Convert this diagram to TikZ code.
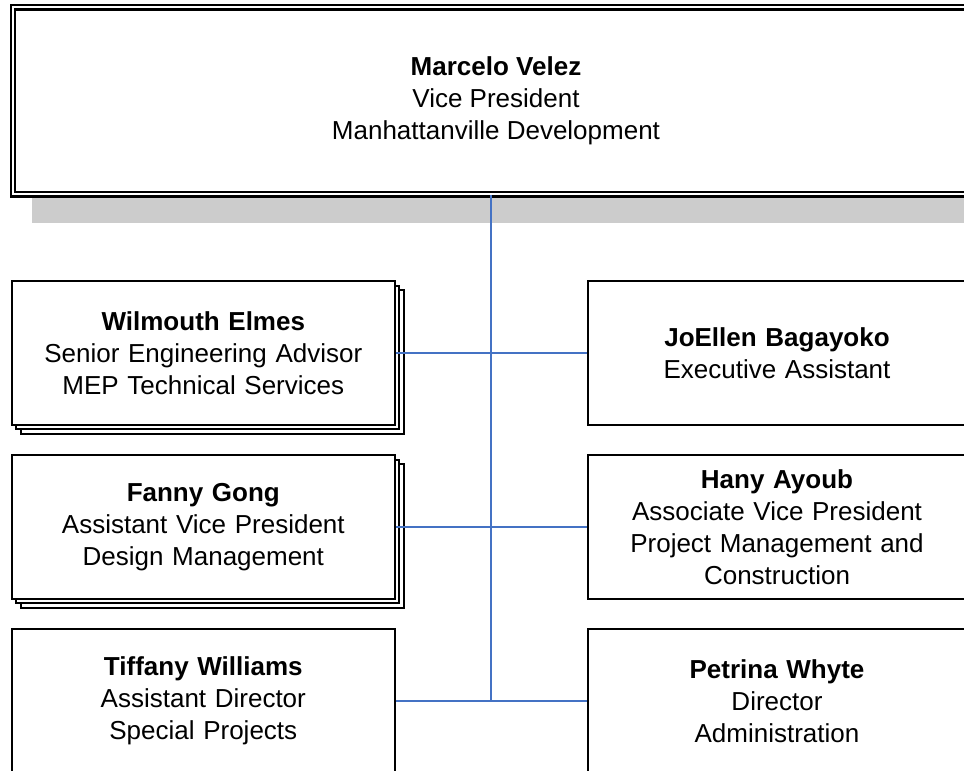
\documentclass[tikz,border=0pt]{standalone}
\usepackage{fontspec}
\setmainfont{Liberation Sans}
\usetikzlibrary{shadows}
\definecolor{linkblue}{HTML}{4472C4}
\definecolor{shadowgray}{HTML}{CCCCCC}

\begin{document}
\begin{tikzpicture}[x=1pt, y=-1pt,
  every node/.style={font=\fontsize{26}{32}\selectfont},
  person/.style={draw, fill=white, line width=1.8pt, align=center,
    inner sep=0pt, minimum height=143.5pt},
  leftbox/.style={person, minimum width=383pt, text width=370pt},
  rightbox/.style={person, minimum width=378pt, text width=360pt},
  stacked/.style={copy shadow={shadow xshift=9pt, shadow yshift=-9pt},
    copy shadow={shadow xshift=4.5pt, shadow yshift=-4.5pt}},
  link/.style={draw=linkblue, line width=2pt}]
  %----- page -----
  \useasboundingbox[fill=white] (0,0) rectangle (964,771);
  \clip (0,0) rectangle (964,771);

  %----- top box with its gray shadow -----
  \fill[shadowgray] (32,40) rectangle (990,222.5);
  \node[draw, double, double distance=2.6pt, line width=2.1pt, fill=white,
    minimum width=966pt, minimum height=187pt, inner sep=0pt, align=center]
    (vp) at (496,100.6)
    {\textbf{Marcelo Velez}\\Vice President\\Manhattanville Development};

  %----- left column -----
  \node[leftbox, stacked] (we) at (203.3,353)
    {\textbf{Wilmouth Elmes}\\Senior Engineering Advisor\\MEP Technical Services};
  \node[leftbox, stacked] (fg) at (203.3,527)
    {\textbf{Fanny Gong}\\Assistant Vice President\\Design Management};
  \node[leftbox] (tw) at (203.3,701)
    {\textbf{Tiffany Williams}\\Assistant Director\\Special Projects};

  %----- right column -----
  \node[rightbox] (jb) at (777,353)
    {\textbf{JoEllen Bagayoko}\\Executive Assistant};
  \node[rightbox] (ha) at (777,527)
    {\textbf{Hany Ayoub}\\Associate Vice President\\Project Management and\\Construction};
  \node[rightbox] (pw) at (777,701)
    {\textbf{Petrina Whyte}\\Director\\Administration};

  %----- connectors -----
  \coordinate (trunk) at (491,701);
  \draw[link] (vp.south -| trunk) -- (trunk);
  \draw[link] (we.east) -- (jb.west);
  \draw[link] (fg.east) -- (ha.west);
  \draw[link] (tw.east) -- (pw.west);
\end{tikzpicture}
\end{document}
